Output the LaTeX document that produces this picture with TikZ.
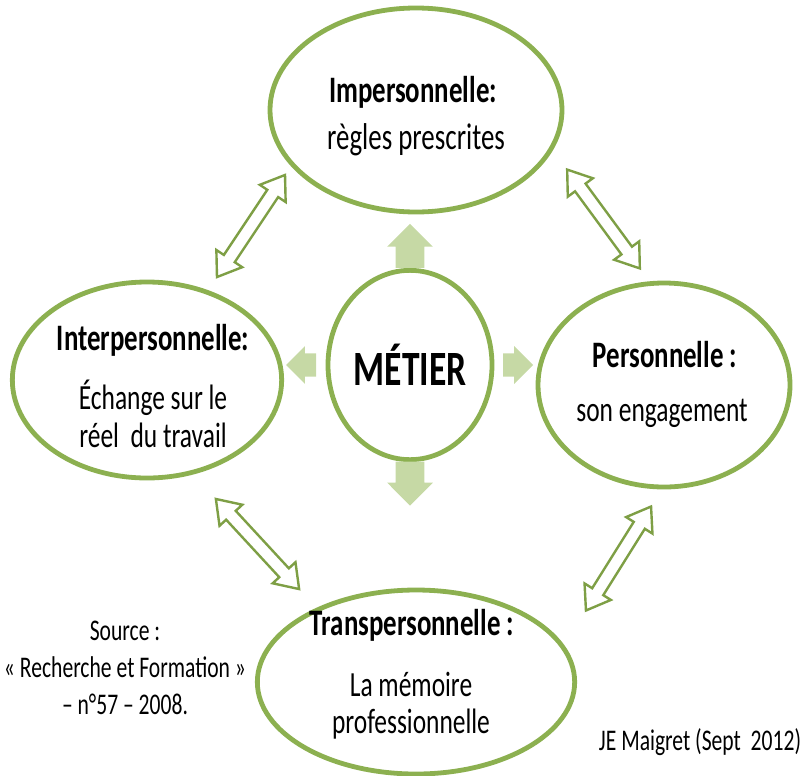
\documentclass[tikz,border=0pt]{standalone}
\usepackage{fontspec}
\setmainfont{Carlito}[FakeStretch=0.72]
\usepackage{xcolor}
\usetikzlibrary{positioning,shapes.geometric,shapes.arrows}
\definecolor{ovalgreen}{HTML}{8CB050}
\definecolor{pushgreen}{HTML}{C6D9A5}
\definecolor{linkgreen}{HTML}{7E9F45}

\begin{document}
\begin{tikzpicture}[x=0.75pt, y=-0.75pt,
	oval/.style={draw=ovalgreen, line width=3.6pt, ellipse, fill=white, inner sep=0pt},
	title/.style={font=\bfseries\fontsize{28}{31}\selectfont},
	body/.style={font=\fontsize{26.5}{28}\selectfont, align=center},
	note/.style={font=\fontsize{22.5}{27.5}\selectfont, align=center},
	push/.style={single arrow, fill=pushgreen, draw=none, inner xsep=0pt, inner ysep=10.5pt, single arrow head extend=6.4pt, minimum height=33pt, allow upside down},
	pushside/.style={push, inner ysep=8.5pt, single arrow head extend=5.5pt, minimum height=22.5pt},
	link/.style={double arrow, draw=linkgreen, fill=white, line width=1.8pt, inner xsep=0pt, inner ysep=4pt, double arrow tip angle=70, double arrow head extend=6.75pt, minimum height=92pt, allow upside down}]
		\useasboundingbox (0,0) rectangle (802,775);
		% the five ovals
		\node[oval, minimum width=219pt, minimum height=153pt] (imper) at (416,110) {};
		\node[oval, minimum width=202pt, minimum height=147pt] (inter) at (147,380) {};
		\node[oval, minimum width=189pt, minimum height=153pt] (perso) at (664,385) {};
		\node[oval, minimum width=238pt, minimum height=138pt] (trans) at (416,682) {};
		\node[oval, minimum width=123pt, minimum height=142pt, font=\bfseries\fontsize{37}{40}\selectfont] (metier) at (410,365) {MÉTIER};
		% texts
		\node[title] (imperA) at (413,92) {Impersonnelle:};
		\node[body, font=\fontsize{28}{30}\selectfont] (imperB) at (416,140) {règles prescrites};
		\node[title] (interA) at (153,340) {Interpersonnelle:};
		\node[body] (interB) at (153,414) {Échange sur le\\réel~ du travail};
		\node[title] (persoA) at (665,355) {Personnelle :};
		\node[body] (persoB) at (662,413) {son engagement};
		\node[title] (transA) at (412,625) {Transpersonnelle :};
		\node[body] (transB) at (411,706) {La mémoire\\professionnelle};
		\node[note] (source) at (125,668) {Source :\\« Recherche et Formation »\\– n°57 – 2008.};
		\node[note] (author) at (700,742) {JE Maigret (Sept~ 2012)};
		% from the centre
		\path (metier) -- (metier |- imper) node[pos=0.095, sloped, push] (toImper) {};
		\path (metier) -- (metier |- trans) node[pos=0.065, sloped, push] (toTrans) {};
		\path (metier) -- (metier -| inter) node[pos=0.105, sloped, pushside] (toInter) {};
		\path (metier) -- (metier -| perso) node[pos=0.105, sloped, pushside] (toPerso) {};
		% between the ovals
		\coordinate (tlA) at (217,277);
		\coordinate (tlB) at (285,175);
		\coordinate (trA) at (566,168);
		\coordinate (trB) at (641,270);
		\coordinate (blA) at (215,498);
		\coordinate (blB) at (300,590);
		\coordinate (brA) at (585,612);
		\coordinate (brB) at (652,505);
		\path (tlA) -- (tlB) node[midway, sloped, link] (linkTL) {};
		\path (trA) -- (trB) node[midway, sloped, link] (linkTR) {};
		\path (blA) -- (blB) node[midway, sloped, link] (linkBL) {};
		\path (brA) -- (brB) node[midway, sloped, link] (linkBR) {};
	\end{tikzpicture}
\end{document}
